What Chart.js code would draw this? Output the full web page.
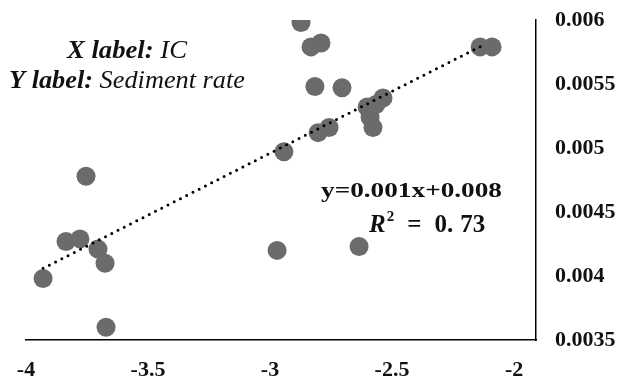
<!DOCTYPE html>
<html>
<head>
<meta charset="utf-8">
<script src="https://cdn.jsdelivr.net/npm/chart.js@4/dist/chart.umd.min.js"></script>
<style>
html,body{margin:0;padding:0;background:#fff;}
#wrap{width:622px;height:383px;position:relative;}
</style>
</head>
<body>
<div id="wrap"><canvas id="c" width="622" height="383"></canvas></div>
<script>
// Data
const icValues = [-3.93, -3.836, -3.779, -3.754, -3.705, -3.676, -3.672, -2.971, -2.943, -2.873, -2.832, -2.791, -2.816, -2.705, -2.803, -2.758, -2.635, -2.602, -2.590, -2.578, -2.566, -2.537, -2.139, -2.090];
const sedimentRate = [0.00398, 0.00427, 0.00429, 0.00478, 0.00421, 0.00410, 0.00360, 0.00420, 0.00497, 0.00598, 0.00579, 0.00582, 0.00548, 0.00547, 0.00512, 0.00516, 0.00423, 0.00532, 0.00524, 0.00516, 0.00534, 0.00539, 0.00579, 0.00579];
const trendX = [-3.93, -2.12];
const trendY = [0.00406, 0.00581];
const xTicks = [-4, -3.5, -3, -2.5, -2];
const yTicks = [0.0035, 0.004, 0.0045, 0.005, 0.0055, 0.006];
const xLabelTitle = ["X label:", " IC"];
const yLabelTitle = ["Y label:", " Sediment rate"];
const equationText = "y=0.001x+0.008";
const r2Text = "0.73";

const points = icValues.map((x, i) => ({x: x, y: sedimentRate[i]}));
const trend = trendX.map((x, i) => ({x: x, y: trendY[i]}));

const serif = "'Liberation Serif', 'Times New Roman', serif";

const annot = {
  id: 'annot',
  afterDraw(chart) {
    const ctx = chart.ctx;
    ctx.save();
    ctx.fillStyle = '#111';
    ctx.textBaseline = 'alphabetic';
    ctx.textAlign = 'left';
    function mixed(parts, x0, x1, y) {
      ctx.font = 'italic bold 26px ' + serif;
      const w1 = ctx.measureText(parts[0]).width;
      ctx.font = 'italic 26px ' + serif;
      const w2 = ctx.measureText(parts[1]).width;
      const s = (x1 - x0) / (w1 + w2);
      ctx.save();
      ctx.translate(x0, y);
      ctx.scale(s, 1);
      ctx.font = 'italic bold 26px ' + serif;
      ctx.fillText(parts[0], 0, 0);
      ctx.font = 'italic 26px ' + serif;
      ctx.fillText(parts[1], w1, 0);
      ctx.restore();
    }
    mixed(xLabelTitle, 67, 187, 58);
    mixed(yLabelTitle, 9, 245, 88);

    // equation
    ctx.font = 'bold 22px ' + serif;
    const ew = ctx.measureText(equationText).width;
    ctx.save();
    ctx.translate(321, 197);
    ctx.scale(181 / ew, 1);
    ctx.fillText(equationText, 0, 0);
    ctx.restore();

    // R^2 = 0.73
    let x = 369;
    const by = 232;
    ctx.font = 'italic bold 25px ' + serif;
    ctx.fillText('R', x, by);
    x += ctx.measureText('R').width + 1;
    ctx.font = 'bold 15px ' + serif;
    ctx.fillText('2', x, by - 11);
    x += ctx.measureText('2').width + 13;
    ctx.font = 'bold 25px ' + serif;
    ctx.fillText('=', x, by);
    x += ctx.measureText('=').width + 13;
    ctx.fillText('0.', x, by);
    x += ctx.measureText('0.').width + 7;
    ctx.fillText('73', x, by);
    ctx.restore();
  }
};

new Chart(document.getElementById('c'), {
  type: 'scatter',
  data: {
    datasets: [
      {
        label: 'Trend',
        type: 'line',
        data: trend,
        borderColor: '#000',
        borderWidth: 3,
        borderDash: [0, 7],
        borderCapStyle: 'round',
        pointRadius: 0,
        fill: false,
        order: 0
      },
      {
        label: 'Sediment rate',
        data: points,
        backgroundColor: '#6b6b6b',
        borderWidth: 0,
        pointRadius: 9.5,
        pointHoverRadius: 9.5,
        order: 1
      }
    ]
  },
  options: {
    responsive: false,
    animation: false,
    events: [],
    layout: {padding: {left: 26, top: 20, right: 0, bottom: 0}},
    plugins: {legend: {display: false}, tooltip: {enabled: false}},
    scales: {
      x: {
        type: 'linear',
        position: 'bottom',
        min: -4,
        max: -1.91,
        afterBuildTicks: (s) => { s.ticks = xTicks.map(v => ({value: v})); },
        afterFit: (s) => { s.height = 43; s.paddingLeft = 0; s.paddingRight = 0; },
        grid: {display: false, drawTicks: false},
        border: {display: true, color: '#000', width: 1.5},
        ticks: {
          color: '#111',
          font: {family: serif, size: 22, weight: 'bold'},
          padding: 17,
          maxRotation: 0,
          callback: (v) => String(v)
        }
      },
      y: {
        type: 'linear',
        position: 'right',
        min: 0.0035,
        max: 0.006,
        afterBuildTicks: (s) => { s.ticks = yTicks.map(v => ({value: v})); },
        afterFit: (s) => { s.width = 86; s.paddingTop = 0; s.paddingBottom = 0; },
        grid: {display: false, drawTicks: false},
        border: {display: true, color: '#000', width: 1.5},
        ticks: {
          color: '#111',
          font: {family: serif, size: 22, weight: 'bold'},
          padding: 19,
          callback: (v) => String(v)
        }
      }
    }
  },
  plugins: [annot]
});
</script>
</body>
</html>
